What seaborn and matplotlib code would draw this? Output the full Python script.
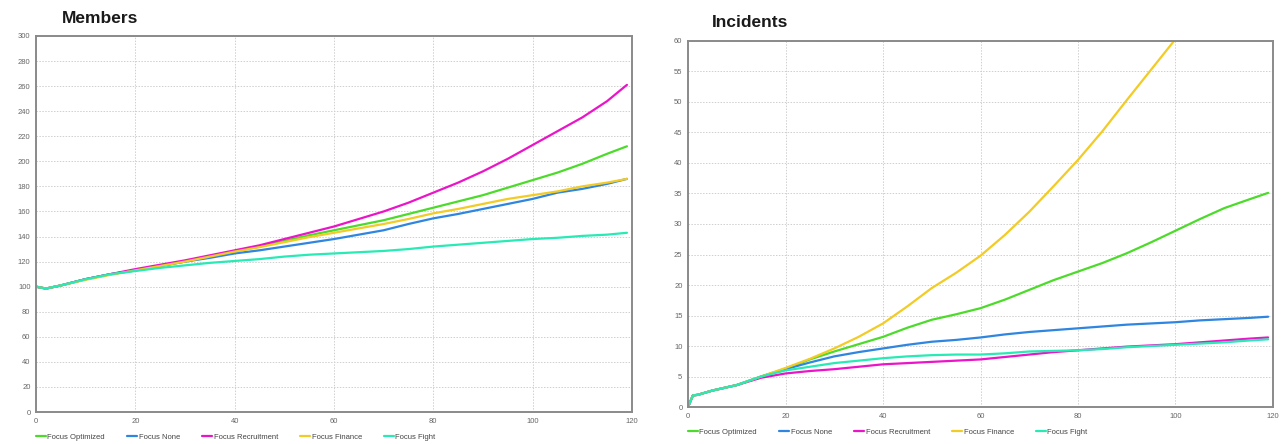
import numpy as np
import pandas as pd
import matplotlib
matplotlib.use("Agg")
import matplotlib.pyplot as plt
import seaborn as sb

series = ["Focus Optimized", "Focus None", "Focus Recruitment", "Focus Finance", "Focus Fight"]
colors = ["#4cdb2a", "#2f86e0", "#ec14c8", "#f2cb25", "#28eab4"]

# Members chart
mem_x = [0, 2, 5, 10, 15, 20, 25, 30, 35, 40, 45, 50, 55, 60, 65, 70, 75, 80, 85, 90, 95, 100, 105, 110, 115, 119]
mem_optimized = [100, 98.5, 101, 106, 110, 113, 116.5, 120, 124, 128, 132, 136.5, 141, 145, 149, 153, 158, 163, 168, 173, 179, 185, 191, 198, 206, 212]
mem_none = [100, 98.5, 101, 106, 110, 113, 116.5, 120, 123, 126.5, 129, 132, 135, 138, 141.5, 145, 150, 154.5, 158, 162, 166, 170, 175, 178, 182, 186]
mem_recruitment = [100, 98.5, 101, 106, 110, 114, 117.5, 121, 125, 129, 133, 138, 143, 148, 154, 160, 167, 175, 183, 192, 202, 213, 224, 235, 248, 261]
mem_finance = [100, 98.5, 101, 105.5, 109.5, 113, 116.5, 120, 124, 128, 131.5, 135.5, 139.5, 143, 146.5, 150, 154, 158.5, 162, 166, 170, 173, 176, 180, 183, 186]
mem_fight = [100, 98.5, 101, 106, 110, 112.5, 115, 117, 119, 120.5, 122, 124, 125.5, 126.5, 127.5, 128.5, 130, 132, 133.5, 135, 136.5, 138, 139, 140.5, 141.5, 143]

# Incidents chart
inc_x = [0, 1, 2, 5, 10, 15, 20, 25, 30, 35, 40, 45, 50, 55, 60, 65, 70, 75, 80, 85, 90, 95, 100, 105, 110, 115, 119]
inc_optimized = [0, 1.9, 2.0, 2.7, 3.6, 5.0, 6.3, 7.8, 9.1, 10.3, 11.5, 13.0, 14.3, 15.2, 16.2, 17.6, 19.2, 20.8, 22.2, 23.6, 25.2, 27.0, 28.9, 30.8, 32.6, 34.0, 35.1]
inc_none = [0, 1.9, 2.0, 2.7, 3.6, 5.0, 6.2, 7.3, 8.3, 9.0, 9.6, 10.2, 10.7, 11.0, 11.4, 11.9, 12.3, 12.6, 12.9, 13.2, 13.5, 13.7, 13.9, 14.2, 14.4, 14.6, 14.8]
inc_recruitment = [0, 1.9, 2.0, 2.7, 3.6, 4.8, 5.5, 5.9, 6.2, 6.6, 7.0, 7.2, 7.4, 7.6, 7.8, 8.2, 8.6, 9.0, 9.3, 9.6, 9.9, 10.1, 10.3, 10.6, 10.9, 11.2, 11.4]
inc_fight = [0, 1.9, 2.0, 2.7, 3.6, 5.0, 6.0, 6.6, 7.2, 7.6, 8.0, 8.3, 8.5, 8.6, 8.6, 8.8, 9.1, 9.2, 9.3, 9.5, 9.8, 10.0, 10.2, 10.4, 10.6, 10.9, 11.1]
inc_finance_x = [0, 1, 2, 5, 10, 15, 20, 25, 30, 35, 40, 45, 50, 55, 60, 65, 70, 75, 80, 85, 90, 95, 100, 103]
inc_finance = [0, 1.9, 2.0, 2.7, 3.6, 5.0, 6.4, 7.9, 9.6, 11.5, 13.7, 16.5, 19.5, 22.0, 24.8, 28.2, 32.0, 36.2, 40.5, 45.2, 50.3, 55.3, 60.3, 63.5]


def long_df(parts):
    frames = []
    for name, xs, ys in parts:
        frames.append(pd.DataFrame({"x": xs, "y": ys, "series": name}))
    return pd.concat(frames, ignore_index=True)


df_mem = long_df([
    ("Focus Optimized", mem_x, mem_optimized),
    ("Focus None", mem_x, mem_none),
    ("Focus Recruitment", mem_x, mem_recruitment),
    ("Focus Finance", mem_x, mem_finance),
    ("Focus Fight", mem_x, mem_fight),
])
df_inc = long_df([
    ("Focus Optimized", inc_x, inc_optimized),
    ("Focus None", inc_x, inc_none),
    ("Focus Recruitment", inc_x, inc_recruitment),
    ("Focus Finance", inc_finance_x, inc_finance),
    ("Focus Fight", inc_x, inc_fight),
])

sb.set_style("white")
plt.rcParams["font.family"] = ["Liberation Sans", "DejaVu Sans"]
palette = dict(zip(series, colors))

fig = plt.figure(figsize=(12.87, 4.44), dpi=100)
ax1 = fig.add_axes([0.028, 0.072, 0.463, 0.847])
ax2 = fig.add_axes([0.5346, 0.0833, 0.4545, 0.8244])


def style_axis(ax, ymax, ystep):
    ax.set_xlim(0, 120)
    ax.set_ylim(0, ymax)
    ax.set_xticks(range(0, 121, 20))
    ax.set_yticks(np.arange(0, ymax + 0.1, ystep))
    ax.grid(True, color="#cfcfcf", linestyle=(0, (1.5, 1.5)), linewidth=0.7)
    ax.tick_params(labelsize=5.5, colors="#666666", length=2, width=0.6, pad=2)
    for sp in ax.spines.values():
        sp.set_color("#8a8a8a")
        sp.set_linewidth(1.4)
    ax.set_xlabel("")
    ax.set_ylabel("")


sb.lineplot(data=df_mem, x="x", y="y", hue="series", hue_order=series,
            palette=palette, linewidth=1.6, ax=ax1, legend=False, sort=False)
sb.lineplot(data=df_inc, x="x", y="y", hue="series", hue_order=series,
            palette=palette, linewidth=1.6, ax=ax2, legend=False, sort=False)

style_axis(ax1, 300, 20)
style_axis(ax2, 60, 5)

fig.text(0.048, 0.958, "Members", fontsize=12.5, fontweight="bold", ha="left", va="center", color="#1a1a1a")
fig.text(0.553, 0.95, "Incidents", fontsize=12.5, fontweight="bold", ha="left", va="center", color="#1a1a1a")

handles = [plt.Line2D([0], [0], color=c, linewidth=1.6) for c in colors]
for ax, y in [(ax1, -0.066), (ax2, -0.068)]:
    ax.legend(handles, series, loc="center left", bbox_to_anchor=(0.0, y), ncol=5,
              frameon=False, fontsize=5.5, handlelength=1.3, handletextpad=0.2,
              columnspacing=2.9, borderaxespad=0, borderpad=0, labelcolor="#444444")

fig.savefig("out.png", dpi=100)
